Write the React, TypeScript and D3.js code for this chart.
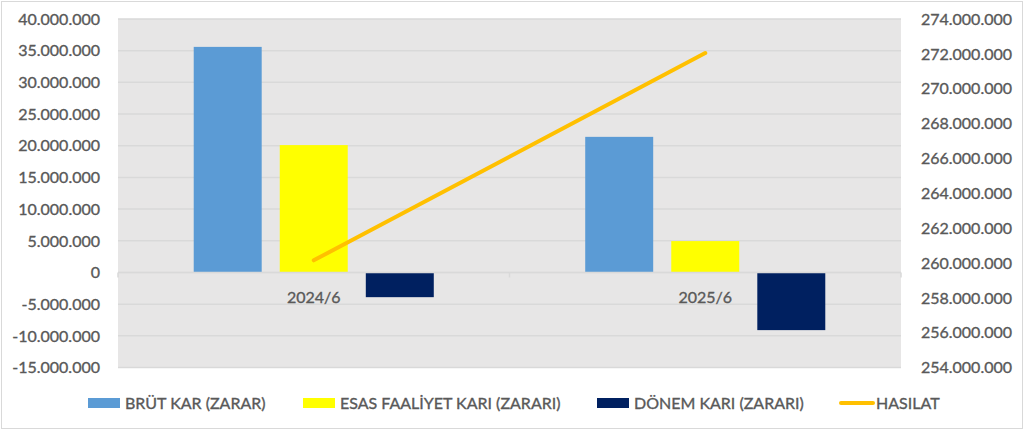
import * as d3 from "d3";
import { useEffect, useRef } from "react";

const categories = ["2024/6", "2025/6"];
const brutKar = [35600000, 21400000];
const esasFaaliyet = [20100000, 4950000];
const donemKari = [-3900000, -9100000];
const hasilat = [260150000, 272050000];

const leftTicks = d3.range(-15000000, 40000001, 5000000);
const rightTicks = d3.range(254000000, 274000001, 2000000);

const barSeries = [
  { name: "BRÜT KAR (ZARAR)", values: brutKar, color: "#5b9bd5" },
  { name: "ESAS FAALİYET KARI (ZARARI)", values: esasFaaliyet, color: "#ffff00" },
  { name: "DÖNEM KARI (ZARARI)", values: donemKari, color: "#002060" },
];
const lineName = "HASILAT";
const lineColor = "#ffc000";

const fmt = (v: number) =>
  v === 0 ? "0" : (v < 0 ? "-" : "") + d3.format(",")(Math.abs(v)).replace(/,/g, ".");

function drawChart(node: SVGSVGElement) {
  const width = 1024;
  const height = 430;
  const left = 118;
  const right = 901;
  const top = 19;
  const bottom = 367.5;
  const textColor = "#595959";
  const font = "Lato, 'Open Sans', sans-serif";

  const svg = d3.select(node);
  svg.selectAll("*").remove();

  svg.append("rect")
    .attr("x", 1.5).attr("y", 1.5)
    .attr("width", width - 3).attr("height", height - 3)
    .attr("fill", "#fff").attr("stroke", "#d9d9d9");

  const x0 = d3.scaleBand().domain(categories).range([left, right]);
  const x1 = d3.scaleBand()
    .domain(barSeries.map(s => s.name))
    .range([0, x0.bandwidth()])
    .paddingInner(0.21)
    .paddingOuter(0.88);
  const y = d3.scaleLinear().domain([-15000000, 40000000]).range([bottom, top]);
  const y2 = d3.scaleLinear().domain([254000000, 274000000]).range([bottom, top]);

  // plot area
  svg.append("rect")
    .attr("x", left).attr("y", top)
    .attr("width", right - left).attr("height", bottom - top)
    .attr("fill", "#e7e6e6");

  // gridlines
  svg.append("g")
    .selectAll("line")
    .data(leftTicks)
    .join("line")
      .attr("x1", left).attr("x2", right)
      .attr("y1", d => y(d)).attr("y2", d => y(d))
      .attr("stroke", "#d9d9d9").attr("stroke-width", 1.5);

  // text style shared by all labels
  const textStyle = (g: d3.Selection<SVGGElement, unknown, null, undefined>) =>
    g.attr("fill", textColor)
      .attr("stroke", textColor)
      .attr("stroke-width", 0.35)
      .style("font", `16px ${font}`);

  // left axis labels
  svg.append("g")
    .call(textStyle)
    .attr("text-anchor", "end")
    .selectAll("text")
    .data(leftTicks)
    .join("text")
      .attr("x", 100)
      .attr("y", d => y(d))
      .attr("dy", "0.36em")
      .text(d => fmt(d));

  // right axis labels
  svg.append("g")
    .call(textStyle)
    .attr("text-anchor", "end")
    .selectAll("text")
    .data(rightTicks)
    .join("text")
      .attr("x", 1012)
      .attr("y", d => y2(d))
      .attr("dy", "0.36em")
      .text(d => fmt(d));

  // bars
  barSeries.forEach(s => {
    svg.append("g")
      .attr("fill", s.color)
      .selectAll("rect")
      .data(categories)
      .join("rect")
        .attr("x", (c) => (x0(c) ?? 0) + (x1(s.name) ?? 0))
        .attr("y", (c, i) => y(Math.max(0, s.values[i])))
        .attr("width", x1.bandwidth())
        .attr("height", (c, i) => Math.abs(y(s.values[i]) - y(0)));
  });

  // zero axis
  const axisY = y(0);
  svg.append("line")
    .attr("x1", left).attr("x2", right)
    .attr("y1", axisY).attr("y2", axisY)
    .attr("stroke", "#d9d9d9").attr("stroke-width", 1.5);
  svg.append("g")
    .selectAll("line")
    .data([left, ...categories.slice(1).map(c => x0(c) ?? 0), right])
    .join("line")
      .attr("x1", d => d).attr("x2", d => d)
      .attr("y1", axisY).attr("y2", axisY + 5)
      .attr("stroke", "#d9d9d9").attr("stroke-width", 1.5);

  // category labels
  svg.append("g")
    .call(textStyle)
    .attr("text-anchor", "middle")
    .selectAll("text")
    .data(categories)
    .join("text")
      .attr("x", c => (x0(c) ?? 0) + x0.bandwidth() / 2)
      .attr("y", axisY + 25)
      .attr("dy", "0.36em")
      .text(c => c);

  // line series
  const line = d3.line<number>()
    .x((d, i) => (x0(categories[i]) ?? 0) + x0.bandwidth() / 2)
    .y(d => y2(d));
  svg.append("path")
    .datum(hasilat)
    .attr("d", line)
    .attr("fill", "none")
    .attr("stroke", lineColor)
    .attr("stroke-width", 4)
    .attr("stroke-linecap", "round");

  // legend
  const legendY = 403;
  const legend = svg.append("g").call(textStyle);
  const items = [
    { name: barSeries[0].name, color: barSeries[0].color, x: 88, kind: "bar" },
    { name: barSeries[1].name, color: barSeries[1].color, x: 303, kind: "bar" },
    { name: barSeries[2].name, color: barSeries[2].color, x: 597, kind: "bar" },
    { name: lineName, color: lineColor, x: 839, kind: "line" },
  ];
  items.forEach(it => {
    if (it.kind === "bar") {
      legend.append("rect")
        .attr("x", it.x).attr("y", legendY - 5)
        .attr("width", 32).attr("height", 10)
        .attr("fill", it.color)
        .attr("stroke", "none");
    } else {
      legend.append("line")
        .attr("x1", it.x + 2).attr("x2", it.x + 34)
        .attr("y1", legendY).attr("y2", legendY)
        .attr("stroke", it.color).attr("stroke-width", 4)
        .attr("stroke-linecap", "round");
    }
    legend.append("text")
      .attr("x", it.x + 37)
      .attr("y", legendY)
      .attr("dy", "0.36em")
      .text(it.name);
  });
}

export default function App() {
  const ref = useRef<SVGSVGElement | null>(null);
  useEffect(() => {
    if (ref.current) drawChart(ref.current);
  }, []);
  return (
    <div style={{ position: "absolute", left: 0, top: 0 }}>
      <svg ref={ref} width={1024} height={430} />
    </div>
  );
}
